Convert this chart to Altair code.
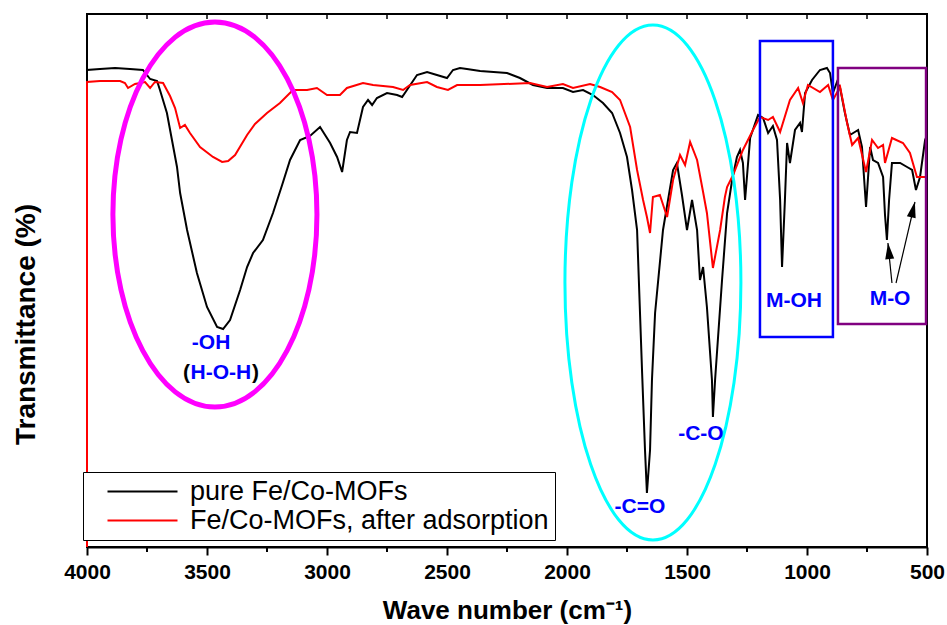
import altair as alt
import pandas as pd

series_names = ["pure Fe/Co-MOFs", "Fe/Co-MOFs, after adsorption"]
series_colors = ["#000000", "#ff0000"]

pure_wn = [4000, 4000, 3946, 3883, 3821, 3767, 3737, 3708, 3696, 3667, 3646, 3625, 3612, 3583, 3542,
           3500, 3458, 3433, 3404, 3362, 3333, 3308, 3267, 3225, 3187, 3154, 3112, 3071, 3029, 2987,
           2958, 2937, 2917, 2904, 2875, 2850, 2829, 2812, 2792, 2750, 2708, 2687, 2667, 2625, 2583,
           2542, 2500, 2475, 2446, 2417, 2362, 2250, 2196, 2142, 2083, 2017, 1975, 1933, 1892, 1850,
           1812, 1779, 1750, 1729, 1708, 1687, 1675, 1667, 1654, 1646, 1633, 1600, 1558, 1542, 1521,
           1500, 1479, 1458, 1446, 1433, 1417, 1396, 1392, 1383, 1354, 1333, 1312, 1292, 1279, 1267,
           1258, 1237, 1204, 1183, 1162, 1142, 1125, 1112, 1104, 1092, 1083, 1071, 1050, 1029, 1021,
           1008, 979, 946, 917, 904, 892, 875, 862, 842, 821, 787, 771, 754, 737, 725,
           704, 683, 675, 667, 658, 646, 612, 583, 562, 546, 529, 508, 500]
pure_t = [0, 95.4, 95.6, 95.8, 95.6, 95.4, 93.6, 93.2, 91.4, 86.8, 81.4, 76, 70.8, 63.4, 54.8,
          48, 44, 43.6, 45.4, 51.4, 56, 58.8, 61.4, 66.8, 72.4, 77.4, 81.4, 82.2, 84, 80.8,
          78, 75, 81.4, 83, 82.8, 88, 89.4, 88.4, 89.8, 90.8, 90.4, 90, 91.4, 94.4, 95,
          94.4, 93.8, 95.4, 95.8, 95.6, 95.2, 94.8, 93.8, 92.4, 91.8, 91.8, 91, 91.4, 90.4, 88.8,
          86.8, 82.8, 78, 71.4, 63.4, 34.8, 19.4, 10.8, 19.4, 33.4, 46.8, 63.4, 75.4, 76.8, 70.4,
          63.4, 69.4, 63.4, 53.4, 56, 48, 33.4, 26, 33.4, 53.4, 66.8, 73.4, 78, 79.4, 76.8,
          69.4, 81.8, 86.4, 85.8, 82.8, 84.2, 81.4, 69.4, 56, 69.4, 80.8, 76.8, 83.4, 84.8, 83,
          90.8, 93.4, 95.4, 95.8, 94.8, 90.8, 93, 91.8, 86.8, 82.4, 83.4, 80, 68, 80, 77.4,
          76.8, 74, 66.4, 61.4, 69.4, 76.8, 76.8, 76, 75.4, 71.4, 74, 81.4, 82.4]

ads_wn = [4000, 4000, 3946, 3862, 3842, 3829, 3800, 3758, 3737, 3717, 3683, 3654, 3633, 3612, 3592,
          3571, 3529, 3475, 3437, 3412, 3383, 3333, 3300, 3250, 3196, 3142, 3083, 3042, 3000, 2946,
          2917, 2850, 2808, 2725, 2683, 2654, 2583, 2542, 2496, 2458, 2362, 2154, 2083, 2017, 1975,
          1904, 1862, 1812, 1779, 1737, 1708, 1683, 1667, 1654, 1642, 1613, 1583, 1558, 1529, 1508,
          1487, 1458, 1433, 1417, 1392, 1362, 1342, 1333, 1308, 1267, 1225, 1196, 1162, 1142, 1112,
          1071, 1037, 1017, 996, 946, 912, 892, 862, 833, 812, 787, 754, 729, 704, 683,
          675, 646, 600, 571, 542, 508, 500]
ads_t = [0, 93, 93.2, 93.2, 92.8, 91.8, 92.6, 93, 91.8, 93, 92.8, 90.2, 87.8, 83.8, 84.4,
         82.8, 80, 78, 77, 77.2, 78.4, 82.4, 84.6, 86.8, 88.8, 91.4, 91.4, 91.8, 90.4, 90.4,
         91.8, 92.8, 92.4, 92, 91.4, 92.4, 93, 92, 91.4, 92.4, 92.4, 92.8, 92, 92.6, 91.8,
         92.6, 92, 91, 89.4, 84, 75.4, 69.4, 66, 62.8, 70, 70.4, 66, 73.4, 78.4, 76.4,
         81, 77.4, 71, 66.8, 55.8, 63.4, 70, 72, 74.4, 79.4, 83.4, 86, 85.4, 86, 83,
         89.4, 91.8, 88.8, 92.4, 91, 92.4, 89.4, 92, 84.8, 80.4, 81.8, 75, 81.4, 79.8, 80.4,
         76.8, 81.8, 80.8, 78.8, 74, 74, 74]

major_ticks = [4000, 3500, 3000, 2500, 2000, 1500, 1000, 500]
minor_ticks = [3750, 3250, 2750, 2250, 1750, 1250, 750]
top_ticks = [3750, 3500, 3250, 3000, 2750, 2500, 2250, 2000, 1750, 1500, 1250, 1000, 750]

# annotations (wave number, transmittance)
blue_labels = ["-OH", "H-O-H", "-C-O", "-C=O", "M-OH", "M-O"]
blue_wn = [3483, 3442, 1442, 1696, 1054, 654]
blue_t = [40.8, 34.8, 22.6, 8.0, 49.2, 49.6]
paren_open_wn, paren_close_wn, paren_t = 3571, 3312, 34.8

oh_center = (3467, 66.5)
co_center = (1642, 52.9)
moh_box = (1196, 892, 42.0, 101.2)
mo_box = (871, 504, 44.6, 95.8)

arrow_wn = [646, 629]
arrow_t = [52.8, 52.8]
arrow_wn2 = [663, 550]
arrow_t2 = [60.8, 69.0]
head_wn = [658, 560]
head_t = [58.8, 67.1]
head_angle = [354, 13]

rows = []
for i, (w, t) in enumerate(zip(pure_wn, pure_t)):
    rows.append({"series": series_names[0], "wn": w, "t": t, "idx": i})
for i, (w, t) in enumerate(zip(ads_wn, ads_t)):
    rows.append({"series": series_names[1], "wn": w, "t": t, "idx": i})
df = pd.DataFrame(rows)

FONT = "Liberation Sans"
xscale = alt.Scale(domain=[500, 4000], reverse=True, nice=False, zero=False)
yscale = alt.Scale(domain=[0, 106.6], nice=False, zero=False)

xaxis = alt.Axis(values=major_ticks, format="d", title="Wave number (cm\u207b\u00b9)",
                 labelFont=FONT, labelFontWeight="bold", labelFontSize=21, labelColor="black",
                 labelPadding=6, tickSize=8, tickWidth=2, tickColor="black",
                 domainColor="black", domainWidth=2, grid=False,
                 labelFlush=False, labelOverlap=False,
                 titleFont=FONT, titleFontWeight="bold", titleFontSize=26, titleColor="black",
                 titleX=420, titleY=71, titleBaseline="alphabetic", titleAlign="center")
yaxis = alt.Axis(labels=False, ticks=False, domain=False, grid=False,
                 title="Transmittance (%)", titleFont=FONT, titleFontWeight="bold",
                 titleFontSize=28, titleColor="black", titleAngle=270,
                 titleX=-53, titleY=310, titleAlign="center", titleBaseline="alphabetic")

X = alt.X("wn:Q", scale=xscale, axis=xaxis)
Y = alt.Y("t:Q", scale=yscale, axis=yaxis)

color = alt.Color("series:N", scale=alt.Scale(domain=series_names, range=series_colors),
                  legend=alt.Legend(title=None, orient="none", legendX=-4, legendY=458,
                                    symbolType="M -5 0 L 5 0", symbolSize=196,
                                    symbolStrokeWidth=2, symbolOffset=40, labelOffset=34,
                                    labelFont=FONT, labelFontSize=27, labelColor="black",
                                    labelLimit=700, strokeColor="black", fillColor="white",
                                    padding=6, rowPadding=1))


def line(name):
    return alt.Chart(df).transform_filter(alt.datum.series == name).mark_line(
        strokeWidth=2).encode(x=X, y=Y, color=color, order="idx:Q")


minor_df = pd.DataFrame({"wn": minor_ticks})
top_df = pd.DataFrame({"wn": top_ticks})
minor_rule = alt.Chart(minor_df).mark_rule(color="black", strokeWidth=2).encode(
    x=X, y=alt.value(533), y2=alt.value(538))
top_rule = alt.Chart(top_df).mark_rule(color="black", strokeWidth=1.5).encode(
    x=X, y=alt.value(0), y2=alt.value(5))

blue_df = pd.DataFrame({"wn": blue_wn, "t": blue_t, "label": blue_labels})
blue_text = alt.Chart(blue_df).mark_text(font=FONT, fontWeight="bold", fontSize=21,
                                         color="#0000ff", baseline="middle", align="center").encode(
    x=X, y=Y, text="label:N")
po = alt.Chart(pd.DataFrame({"wn": [paren_open_wn], "t": [paren_t], "label": ["("]})).mark_text(
    font=FONT, fontWeight="bold", fontSize=21, color="black", baseline="middle", align="right").encode(
    x=X, y=Y, text="label:N")
pc = alt.Chart(pd.DataFrame({"wn": [paren_close_wn], "t": [paren_t], "label": [")"]})).mark_text(
    font=FONT, fontWeight="bold", fontSize=21, color="black", baseline="middle", align="left").encode(
    x=X, y=Y, text="label:N")

ell1_path = ("M 0.53 0 C 0.53 0.5523 0.2927 1 0 1 C -0.2927 1 -0.53 0.5523 -0.53 0 "
             "C -0.53 -0.5523 -0.2927 -1 0 -1 C 0.2927 -1 0.53 -0.5523 0.53 0 Z")
ell2_path = ("M 0.3417 0 C 0.3417 0.5523 0.1887 1 0 1 C -0.1887 1 -0.3417 0.5523 -0.3417 0 "
             "C -0.3417 -0.5523 -0.1887 -1 0 -1 C 0.1887 -1 0.3417 -0.5523 0.3417 0 Z")
ell1 = alt.Chart(pd.DataFrame({"wn": [oh_center[0]], "t": [oh_center[1]]})).mark_point(
    shape=ell1_path, size=148225, filled=False, color="#ff00ff", strokeWidth=5, opacity=1).encode(x=X, y=Y)
ell2 = alt.Chart(pd.DataFrame({"wn": [co_center[0]], "t": [co_center[1]]})).mark_point(
    shape=ell2_path, size=265225, filled=False, color="#00ffff", strokeWidth=3, opacity=1).encode(x=X, y=Y)

box_df1 = pd.DataFrame({"wn": [moh_box[0]], "wn2": [moh_box[1]], "t": [moh_box[2]], "t2": [moh_box[3]]})
box_df2 = pd.DataFrame({"wn": [mo_box[0]], "wn2": [mo_box[1]], "t": [mo_box[2]], "t2": [mo_box[3]]})
box1 = alt.Chart(box_df1).mark_rect(fillOpacity=0, stroke="#0000ff", strokeWidth=2.5).encode(
    x=X, x2="wn2:Q", y=Y, y2="t2:Q")
box2 = alt.Chart(box_df2).mark_rect(fillOpacity=0, stroke="#800080", strokeWidth=2.5).encode(
    x=X, x2="wn2:Q", y=Y, y2="t2:Q")

arrow_df = pd.DataFrame({"wn": arrow_wn, "t": arrow_t, "wn2": arrow_wn2, "t2": arrow_t2})
arrows = alt.Chart(arrow_df).mark_rule(color="black", strokeWidth=1.2).encode(
    x=X, x2="wn2:Q", y=Y, y2="t2:Q")
head_df = pd.DataFrame({"wn": head_wn, "t": head_t, "ang": head_angle})
heads = alt.Chart(head_df).mark_point(shape="M 0 -1 L 0.45 0.6 L -0.45 0.6 Z", size=400,
                                      filled=True, color="black", opacity=1).encode(
    x=X, y=Y, angle=alt.Angle("ang:Q", scale=None))

chart = alt.layer(
    line(series_names[0]), line(series_names[1]),
    ell1, ell2, box1, box2, blue_text, po, pc, arrows, heads, minor_rule, top_rule
).properties(
    width=840, height=533,
    autosize=alt.AutoSizeParams(type="none"),
    padding={"left": 87, "top": 14, "right": 20, "bottom": 78},
    background="white"
).configure_view(stroke="black", strokeWidth=2)

chart.save("out.html", embed_options={"renderer": "svg", "actions": False})
